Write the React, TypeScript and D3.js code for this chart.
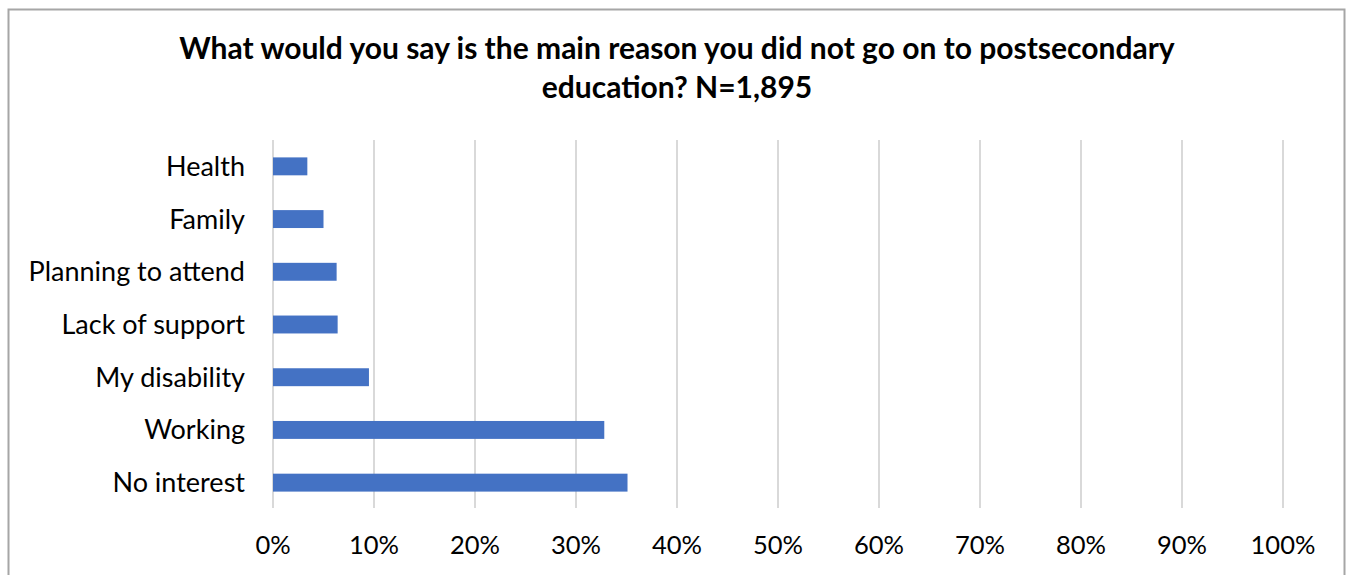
import React from "react";
import * as d3 from "d3";

const categories = ["Health", "Family", "Planning to attend", "Lack of support", "My disability", "Working", "No interest"];
const values = [3.4, 5.0, 6.3, 6.4, 9.5, 32.8, 35.1];
const ticks = [0, 10, 20, 30, 40, 50, 60, 70, 80, 90, 100];
const titleLines = ["What would you say is the main reason you did not go on to postsecondary", "education? N=1,895"];

const W = 1346;
const H = 575;
const FONT = "Lato, 'Open Sans', sans-serif";

export default function App() {
  const x = d3.scaleLinear().domain([0, 100]).range([273, 1283]);
  const y = d3.scaleBand().domain(categories).range([140, 509]).paddingInner(0.66).paddingOuter(0.33);
  return (
    <svg width={W} height={H} style={{ position: "absolute", left: 0, top: 0 }} xmlns="http://www.w3.org/2000/svg">
      <rect x={0} y={0} width={W} height={H} fill="#fff" />
      <rect x={8.5} y={9.5} width={1336} height={H + 20} fill="#fff" stroke="#a6a6a6" strokeWidth={2} />
      {titleLines.map((t, i) => (
        <text key={i} x={677} y={59 + i * 39} textAnchor="middle" fontFamily={FONT} fontWeight="bold" fontSize={30} fill="#000">
          {t}
        </text>
      ))}
      {ticks.map((t) => (
        <line key={t} x1={x(t)} x2={x(t)} y1={140} y2={508} stroke="#d9d9d9" strokeWidth={2} />
      ))}
      {categories.map((c, i) => (
        <rect key={c} x={x(0)} y={y(c)!} width={x(values[i]) - x(0)} height={y.bandwidth()} fill="#4472c4" />
      ))}
      {categories.map((c) => (
        <text key={c} x={245} y={y(c)! + y.bandwidth() / 2} dy="0.35em" textAnchor="end" fontFamily={FONT} fontSize={27} fill="#000">
          {c}
        </text>
      ))}
      {ticks.map((t) => (
        <text key={t} x={x(t)} y={554} textAnchor="middle" fontFamily={FONT} fontSize={25.5} fill="#000">
          {t}%
        </text>
      ))}
    </svg>
  );
}
